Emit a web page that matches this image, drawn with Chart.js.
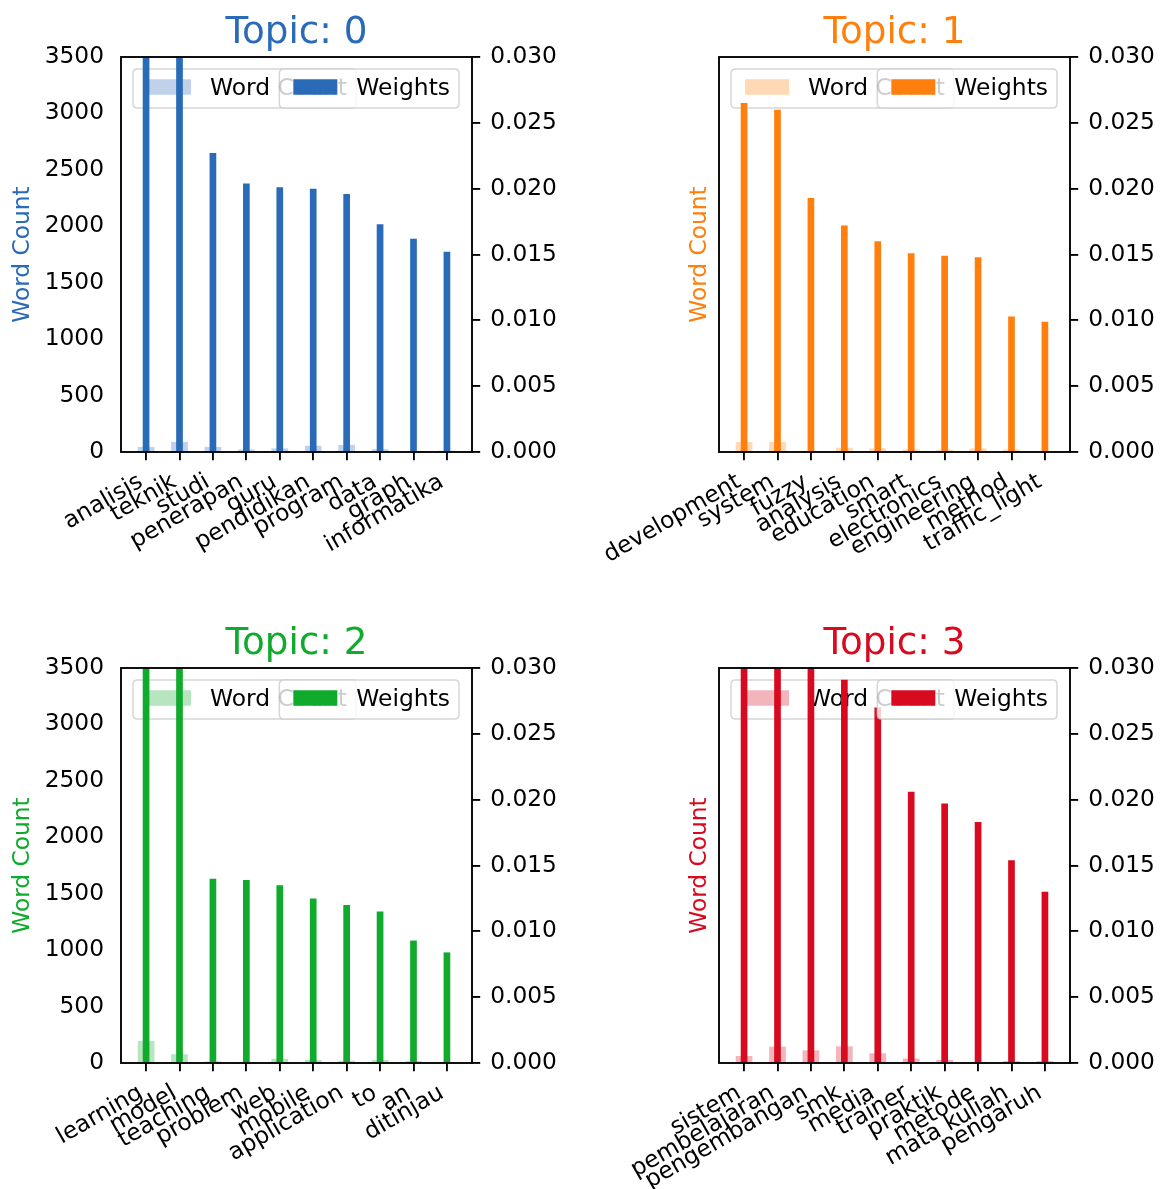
<!DOCTYPE html>
<html>
<head>
<meta charset="utf-8">
<script src="https://cdn.jsdelivr.net/npm/chart.js@4.4.1/dist/chart.umd.min.js"></script>
<style>
html, body { margin: 0; padding: 0; background: #ffffff; }
body { width: 1161px; height: 1189px; position: relative; overflow: hidden; }
canvas.panel { position: absolute; }
</style>
</head>
<body>
<canvas class="panel" id="c0" width="563" height="578" style="left:0px;top:0px"></canvas>
<canvas class="panel" id="c1" width="563" height="578" style="left:598px;top:0px"></canvas>
<canvas class="panel" id="c2" width="563" height="578" style="left:0px;top:611px"></canvas>
<canvas class="panel" id="c3" width="563" height="578" style="left:598px;top:611px"></canvas>
<script>
// ---------------- data ----------------
const TOPIC_TITLES = ['Topic: 0', 'Topic: 1', 'Topic: 2', 'Topic: 3'];
const TOPIC_COLORS = ['#2a6bb8', '#ff7f0e', '#10aa2c', '#d80a20'];

const WORDS_0 = ['analisis', 'teknik', 'studi', 'penerapan', 'guru', 'pendidikan', 'program', 'data', 'graph', 'informatika'];
const COUNTS_0 = [45, 90, 45, 22, 32, 55, 63, 25, 6, 12];
const WEIGHTS_0 = [0.0345, 0.0325, 0.0227, 0.0204, 0.0201, 0.0200, 0.0196, 0.0173, 0.0162, 0.0152];

const WORDS_1 = ['development', 'system', 'fuzzy', 'analysis', 'education', 'smart', 'electronics', 'engineering', 'method', 'traffic_light'];
const COUNTS_1 = [89, 89, 8, 38, 32, 23, 20, 32, 22, 7];
const WEIGHTS_1 = [0.0265, 0.0260, 0.0193, 0.0172, 0.0160, 0.0151, 0.0149, 0.0148, 0.0103, 0.0099];

const WORDS_2 = ['learning', 'model', 'teaching', 'problem', 'web', 'mobile', 'application', 'to', 'an', 'ditinjau'];
const COUNTS_2 = [195, 78, 14, 10, 38, 27, 20, 27, 17, 6];
const WEIGHTS_2 = [0.0368, 0.0341, 0.0140, 0.0139, 0.0135, 0.0125, 0.0120, 0.0115, 0.0093, 0.0084];

const WORDS_3 = ['sistem', 'pembelajaran', 'pengembangan', 'smk', 'media', 'trainer', 'praktik', 'metode', 'mata kuliah', 'pengaruh'];
const COUNTS_3 = [62, 145, 112, 148, 86, 40, 27, 10, 17, 17];
const WEIGHTS_3 = [0.0352, 0.0347, 0.0331, 0.0291, 0.0270, 0.0206, 0.0197, 0.0183, 0.0154, 0.0130];

const COUNT_AXIS = { min: 0, max: 3500, step: 500 };
const WEIGHT_AXIS = { min: 0, max: 0.030, step: 0.005 };
const LEGEND_LABELS = ['Word Count', 'Weights'];

// ---------------- helpers ----------------
function withAlpha(hex, a) {
  const n = parseInt(hex.slice(1), 16);
  return 'rgba(' + ((n >> 16) & 255) + ',' + ((n >> 8) & 255) + ',' + (n & 255) + ',' + a + ')';
}

const FONT = 'DejaVu Sans';
const FS = 23.3;
Chart.defaults.font.family = FONT;
Chart.defaults.font.size = FS;
Chart.defaults.color = '#000000';

function roundRect(ctx, x, y, w, h, r) {
  ctx.beginPath();
  ctx.moveTo(x + r, y);
  ctx.lineTo(x + w - r, y);
  ctx.quadraticCurveTo(x + w, y, x + w, y + r);
  ctx.lineTo(x + w, y + h - r);
  ctx.quadraticCurveTo(x + w, y + h, x + w - r, y + h);
  ctx.lineTo(x + r, y + h);
  ctx.quadraticCurveTo(x, y + h, x, y + h - r);
  ctx.lineTo(x, y + r);
  ctx.quadraticCurveTo(x, y, x + r, y);
  ctx.closePath();
}

const LEG = { fs: 23.4, insetL: 12, insetR: 13, h: 39, handleX: 14, handleW: 44, handleH: 15.5, textX: 77, padR: 9, baseline: 26 };

function drawLegend(chart, side, label, handleColor) {
  const ctx = chart.ctx;
  const a = chart.chartArea;
  ctx.save();
  ctx.font = LEG.fs + 'px "' + FONT + '"';
  const tw = ctx.measureText(label).width;
  const w = LEG.textX + tw + LEG.padR;
  const x = side === 'left' ? a.left + LEG.insetL : a.right - LEG.insetR - w;
  const y = a.top + LEG.insetL;
  roundRect(ctx, x, y, w, LEG.h, 4.5);
  ctx.fillStyle = 'rgba(255,255,255,0.8)';
  ctx.fill();
  ctx.lineWidth = 1.5;
  ctx.strokeStyle = 'rgba(204,204,204,0.8)';
  ctx.stroke();
  ctx.fillStyle = handleColor;
  const hy = y + LEG.h / 2 - LEG.handleH / 2 - 1.5;
  ctx.fillRect(x + LEG.handleX, hy, LEG.handleW, LEG.handleH);
  ctx.fillStyle = '#000000';
  ctx.textAlign = 'left';
  ctx.textBaseline = 'alphabetic';
  ctx.fillText(label, x + LEG.textX, y + LEG.baseline);
  ctx.restore();
}

const twinLegendPlugin = {
  id: 'twinLegend',
  beforeDatasetDraw(chart, args) {
    if (args.index === 1) {
      const ds = chart.data.datasets[0];
      drawLegend(chart, 'left', ds.label, ds.backgroundColor);
    }
  },
  afterDatasetsDraw(chart) {
    const a = chart.chartArea;
    const ctx = chart.ctx;
    ctx.save();
    ctx.strokeStyle = '#000000';
    ctx.lineWidth = 1.87;
    ctx.strokeRect(a.left, a.top, a.right - a.left, a.bottom - a.top);
    ctx.restore();
    const ds = chart.data.datasets[1];
    drawLegend(chart, 'right', ds.label, ds.backgroundColor);
  }
};

function makePanel(canvasId, idx, words, counts, weights, showLeftTicks, yTitlePad) {
  const color = TOPIC_COLORS[idx];
  return new Chart(document.getElementById(canvasId), {
    type: 'bar',
    data: {
      datasets: [
        {
          label: LEGEND_LABELS[0],
          data: counts.map((v, i) => ({ x: i, y: v })),
          backgroundColor: withAlpha(color, 0.3),
          borderWidth: 0,
          yAxisID: 'y',
          order: 1,
          grouped: false,
          categoryPercentage: 1,
          barPercentage: 0.5
        },
        {
          label: LEGEND_LABELS[1],
          data: weights.map((v, i) => ({ x: i, y: v })),
          backgroundColor: color,
          borderWidth: 0,
          yAxisID: 'y1',
          order: 0,
          grouped: false,
          categoryPercentage: 1,
          barPercentage: 0.2
        }
      ]
    },
    options: {
      responsive: false,
      animation: false,
      layout: { padding: 0 },
      plugins: {
        legend: { display: false },
        tooltip: { enabled: false },
        title: {
          display: true,
          text: TOPIC_TITLES[idx],
          color: color,
          fullSize: false,
          font: { size: 37.3, weight: 'normal', family: FONT, lineHeight: 1.2 },
          padding: { top: 10.8, bottom: 1.44 }
        }
      },
      scales: {
        x: {
          type: 'linear',
          position: 'bottom',
          min: -0.75,
          max: words.length - 0.25,
          offset: false,
          grid: { display: true, offset: false, drawOnChartArea: false, drawTicks: true, tickLength: 8.2, color: '#000000', lineWidth: 1.87 },
          border: { display: false },
          ticks: {
            autoSkip: false,
            minRotation: 30,
            maxRotation: 30,
            padding: 8,
            labelOffset: -5,
            font: { size: FS },
            color: '#000000',
            callback: (v) => (words[v] !== undefined ? words[v] : '')
          },
          afterBuildTicks: (s) => { s.ticks = words.map((_, i) => ({ value: i })); },
          afterFit: (s) => { s.height = 126; s.paddingLeft = 0; s.paddingRight = 0; }
        },
        y: {
          position: 'left',
          min: COUNT_AXIS.min,
          max: COUNT_AXIS.max,
          ticks: { stepSize: COUNT_AXIS.step, display: showLeftTicks, padding: 17, font: { size: FS }, color: '#000000', callback: (v) => String(v) },
          grid: { display: false, drawTicks: false },
          border: { display: false },
          title: { display: true, text: 'Word Count', color: color, font: { size: FS }, padding: { top: yTitlePad, bottom: 0 } },
          afterFit: (s) => { s.width = 121; }
        },
        y1: {
          position: 'right',
          min: WEIGHT_AXIS.min,
          max: WEIGHT_AXIS.max,
          ticks: { stepSize: WEIGHT_AXIS.step, padding: 10, font: { size: FS }, color: '#000000', callback: (v) => v.toFixed(3) },
          grid: { display: true, drawOnChartArea: false, drawTicks: true, tickLength: 8.2, color: '#000000', lineWidth: 1.87 },
          border: { display: false },
          afterFit: (s) => { s.width = 91; }
        }
      }
    },
    plugins: [twinLegendPlugin]
  });
}

makePanel('c0', 0, WORDS_0, COUNTS_0, WEIGHTS_0, true, 9);
makePanel('c1', 1, WORDS_1, COUNTS_1, WEIGHTS_1, false, 88);
makePanel('c2', 2, WORDS_2, COUNTS_2, WEIGHTS_2, true, 9);
makePanel('c3', 3, WORDS_3, COUNTS_3, WEIGHTS_3, false, 88);
</script>
</body>
</html>
